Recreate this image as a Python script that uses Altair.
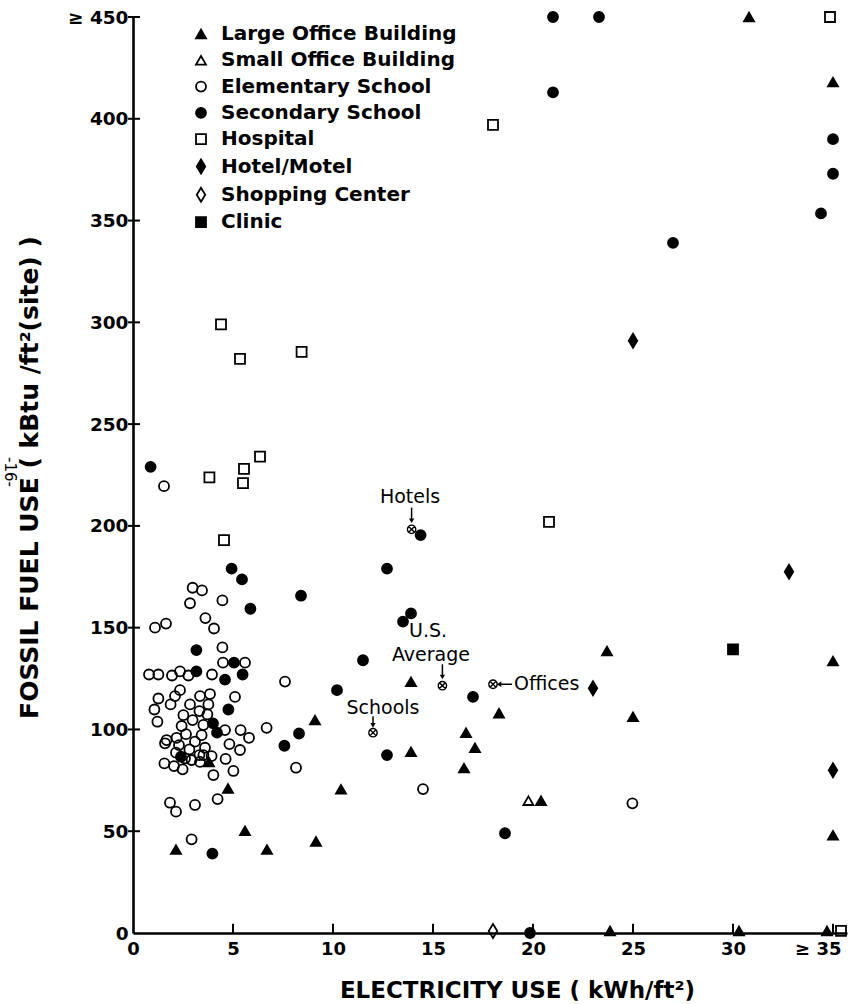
import altair as alt
import pandas as pd

# ---------------- data ----------------
categories = ["Large Office Building", "Small Office Building", "Elementary School",
              "Secondary School", "Hospital", "Hotel/Motel", "Shopping Center", "Clinic"]

large_office_x = [30.8, 35.0, 23.7, 35.0, 13.9, 18.3, 25.0, 9.1, 16.65, 17.1, 13.9, 16.55,
                  3.8, 4.75, 10.4, 20.4, 5.6, 35.0, 9.15, 2.15, 6.7, 23.85, 30.3, 34.7]
large_office_y = [450, 418, 138.5, 133.6, 123.4, 108, 106.2, 104.6, 98.4, 91, 89, 81,
                  84, 71, 70.6, 65, 50.2, 48, 45, 41, 41, 1, 1, 1]

small_office_x = [19.77]
small_office_y = [65]

elementary_x = [1.55, 2.98, 3.45, 4.47, 2.85, 3.62, 4.05, 1.1, 1.65, 4.47, 4.5, 5.6,
                0.8, 1.27, 1.95, 2.35, 2.77, 3.95, 7.6,
                1.27, 1.07, 1.22, 2.1, 2.35, 1.88, 2.85, 2.52, 2.43, 3.35, 3.32, 2.98,
                3.85, 3.77, 3.72, 3.52, 5.1,
                1.68, 1.6, 2.18, 2.3, 2.15, 2.65, 2.82, 2.6, 3.1, 3.32, 2.93, 3.43, 3.6,
                3.52, 1.57, 2.05, 2.48, 3.35, 3.93, 4.02, 4.6, 4.82, 4.63, 5.38, 5.8,
                5.35, 5.02, 6.68, 8.15, 14.5, 1.85, 2.15, 3.1, 4.23, 2.93, 24.97]
elementary_y = [219.5, 169.6, 168.3, 163.4, 162, 154.7, 149.6, 150, 152, 140.3, 132.8, 132.8,
                127, 127, 126.5, 128.5, 126.5, 127, 123.5,
                115.2, 109.8, 103.8, 116.4, 119.3, 112.3, 112.3, 107, 101.7, 116.4, 109, 104.6,
                117.4, 112.3, 107.4, 102.2, 116,
                94.8, 93.2, 95.9, 92.3, 88.6, 97.7, 90.2, 85.8, 94, 87.4, 85, 97.2, 91,
                87.4, 83.3, 82, 80.4, 84.1, 86.9, 77.6, 99.7, 92.8, 85.5, 99.7, 95.9,
                89.9, 79.6, 100.8, 81.2, 70.7, 64, 59.6, 62.9, 65.8, 46, 63.7]

secondary_x = [21.0, 23.3, 21.0, 35.0, 35.0, 34.4, 27.0, 0.88, 14.38, 12.7, 4.93, 5.45,
               8.4, 5.87, 13.9, 13.5, 3.17, 11.5, 5.05, 3.17, 5.48, 4.6, 10.2, 17.0,
               4.77, 4.0, 4.2, 8.3, 7.57, 12.7, 2.4, 18.6, 3.97, 19.85]
secondary_y = [450, 450, 413, 390, 373, 353.5, 339, 229, 195.5, 179, 179, 173.7,
               165.7, 159.3, 157, 153, 139, 134, 132.8, 128.5, 127, 124.5, 119.3, 116,
               109.8, 103, 98.4, 98, 92, 87.4, 86.6, 49, 39, 0]

hospital_x = [34.85, 18.0, 4.4, 8.43, 5.35, 6.35, 5.55, 3.82, 5.5, 20.8, 4.55, 35.4]
hospital_y = [450, 397, 299, 285.5, 282, 234, 228, 223.8, 221, 202, 193, 1]

hotel_x = [25.0, 32.8, 23.0, 35.0]
hotel_y = [291, 177.5, 120.2, 80]

shopping_x = [18.0]
shopping_y = [1]

clinic_x = [30.0]
clinic_y = [139.3]

# group averages (crossed circles) and their annotations
average_names = ["Hotels", "U.S. Average", "Schools", "Offices"]
average_x = [13.93, 15.47, 12.0, 18.0]
average_y = [198.3, 121.5, 98.4, 122.2]

label_text = ["Hotels", "U.S.", "Average", "Schools"]
label_x = [13.85, 14.75, 14.9, 12.5]
label_y = [214.0, 148.3, 136.5, 110.5]

offices_label = ["Offices"]
offices_label_x = [19.05]
offices_label_y = [122.3]

# vertical arrows: x, from y, to y
varrow_x = [13.93, 15.47, 12.0]
varrow_y1 = [209.0, 132.0, 106.5]
varrow_y2 = [202.5, 125.8, 102.0]
# horizontal arrow (Offices): y, from x, to x
harrow_y = [122.2]
harrow_x1 = [18.95]
harrow_x2 = [18.3]

x_tick_values = [0, 5, 10, 15, 20, 25, 30, 35]
y_tick_values = [0, 50, 100, 150, 200, 250, 300, 350, 400, 450]

# ---------------- build tables ----------------
series = [
    (categories[0], large_office_x, large_office_y),
    (categories[1], small_office_x, small_office_y),
    (categories[2], elementary_x, elementary_y),
    (categories[3], secondary_x, secondary_y),
    (categories[4], hospital_x, hospital_y),
    (categories[5], hotel_x, hotel_y),
    (categories[6], shopping_x, shopping_y),
    (categories[7], clinic_x, clinic_y),
]
rows = []
for cat, xs, ys in series:
    for xv, yv in zip(xs, ys):
        rows.append({"kwh": xv, "fuel": yv, "type": cat})
df = pd.DataFrame(rows)

avg_df = pd.DataFrame({"name": average_names, "kwh": average_x, "fuel": average_y})
lab_df = pd.DataFrame({"t": label_text, "kwh": label_x, "fuel": label_y})
off_df = pd.DataFrame({"t": offices_label, "kwh": offices_label_x, "fuel": offices_label_y})
varrow_df = pd.DataFrame({"kwh": varrow_x, "y1": varrow_y1, "y2": varrow_y2})
harrow_df = pd.DataFrame({"fuel": harrow_y, "x1": harrow_x1, "x2": harrow_x2})
xt_df = pd.DataFrame({"v": x_tick_values[1:]})
yt_df = pd.DataFrame({"v": y_tick_values[1:]})

# ---------------- styling ----------------
FONT = "DejaVu Sans"
xscale = alt.Scale(domain=[0, 35.7], nice=False, zero=False)
yscale = alt.Scale(domain=[0, 450], nice=False, zero=False)

diamond = "M0,-1.4L0.85,0L0,1.4L-0.85,0Z"
crossed = "M1,0A1,1,0,1,1,-1,0A1,1,0,1,1,1,0ZM-0.7,-0.7L0.7,0.7M-0.7,0.7L0.7,-0.7"
shape_range = ["triangle-up", "triangle-up", "circle", "circle", "square", diamond, diamond, "square"]
fill_range = ["black", "transparent", "transparent", "black", "transparent", "black", "transparent", "black"]
stroke_range = ["black"] * len(categories)

x_axis = alt.Axis(
    values=x_tick_values,
    labelExpr="datum.value == 35 ? '≥ 35' : datum.label",
    labelAlign={"expr": "datum.value == 35 ? 'right' : 'center'"},
    labelOffset={"expr": "datum.value == 35 ? 8 : 0"},
    ticks=False, tickSize=0, grid=False,
    domainColor="black", domainWidth=2.6,
    labelFont=FONT, labelFontWeight="bold", labelFontSize=18, labelColor="black",
    labelPadding=7, labelFlush=False, labelOverlap=False,
    title="ELECTRICITY USE ( kWh/ft²)",
    titleFont=FONT, titleFontWeight="bold", titleFontSize=23, titleColor="black",
    titleX=384, titleY=64, titleAlign="center", titleBaseline="alphabetic", titleAnchor="start",
)
y_axis = alt.Axis(
    values=y_tick_values,
    labelExpr="datum.value == 450 ? '≥ 450' : datum.label",
    ticks=False, tickSize=0, grid=False,
    domainColor="black", domainWidth=2.6,
    labelFont=FONT, labelFontWeight="bold", labelFontSize=18.5, labelColor="black",
    labelPadding=5, labelFlush=False, labelOverlap=False,
    title="FOSSIL FUEL USE ( kBtu /ft²(site) )",
    titleFont=FONT, titleFontWeight="bold", titleFontSize=25, titleColor="black",
    titleX=-104, titleY=460, titleAngle=270, titleAlign="center", titleBaseline="middle",
    titleAnchor="start",
)

legend = alt.Legend(
    orient="none", legendX=58, legendY=7, title=None, padding=0,
    labelFont=FONT, labelFontWeight="bold", labelFontSize=20, labelColor="black",
    symbolSize=100, symbolStrokeWidth=1.8, symbolStrokeColor="black",
    rowPadding=6.3, labelOffset=10, labelLimit=400,
)

points = alt.Chart(df).mark_point(filled=False, strokeWidth=1.8, opacity=1, size=100).encode(
    x=alt.X("kwh:Q", scale=xscale, axis=x_axis),
    y=alt.Y("fuel:Q", scale=yscale, axis=y_axis),
    shape=alt.Shape("type:N", scale=alt.Scale(domain=categories, range=shape_range), legend=legend),
    fill=alt.Fill("type:N", scale=alt.Scale(domain=categories, range=fill_range), legend=legend),
    stroke=alt.Stroke("type:N", scale=alt.Scale(domain=categories, range=stroke_range), legend=legend),
)

x_ticks = alt.Chart(xt_df).mark_rule(color="black", strokeWidth=2).encode(
    x=alt.X("v:Q", scale=xscale), y=alt.datum(0), y2=alt.datum(4.5))
y_ticks = alt.Chart(yt_df).mark_rule(color="black", strokeWidth=2).encode(
    y=alt.Y("v:Q", scale=yscale), x=alt.datum(-0.25), x2=alt.datum(0.35))

averages = alt.Chart(avg_df).mark_point(shape=crossed, size=70, stroke="black",
                                        strokeWidth=1.4, filled=False, opacity=1).encode(
    x=alt.X("kwh:Q", scale=xscale), y=alt.Y("fuel:Q", scale=yscale))

varrows = alt.Chart(varrow_df).mark_rule(color="black", strokeWidth=1.5).encode(
    x=alt.X("kwh:Q", scale=xscale), y=alt.Y("y1:Q", scale=yscale), y2="y2:Q")
vheads = alt.Chart(varrow_df).mark_point(shape="triangle-down", size=28, filled=True,
                                          color="black", opacity=1).encode(
    x=alt.X("kwh:Q", scale=xscale), y=alt.Y("y2:Q", scale=yscale))
harrows = alt.Chart(harrow_df).mark_rule(color="black", strokeWidth=1.5).encode(
    y=alt.Y("fuel:Q", scale=yscale), x=alt.X("x1:Q", scale=xscale), x2="x2:Q")
hheads = alt.Chart(harrow_df).mark_point(shape="triangle-left", size=28, filled=True,
                                          color="black", opacity=1).encode(
    y=alt.Y("fuel:Q", scale=yscale), x=alt.X("x2:Q", scale=xscale))

labels = alt.Chart(lab_df).mark_text(font=FONT, fontSize=19, color="black",
                                     align="center", baseline="middle").encode(
    x=alt.X("kwh:Q", scale=xscale), y=alt.Y("fuel:Q", scale=yscale), text="t:N")
off_label = alt.Chart(off_df).mark_text(font=FONT, fontSize=19, color="black",
                                        align="left", baseline="middle").encode(
    x=alt.X("kwh:Q", scale=xscale), y=alt.Y("fuel:Q", scale=yscale), text="t:N")

page = alt.Chart(pd.DataFrame({"t": ["-16-"]})).mark_text(
    font=FONT, fontSize=15, color="black", angle=90, align="center", baseline="middle").encode(
    x=alt.value(-123), y=alt.value(455), text="t:N")

chart = alt.layer(
    x_ticks, y_ticks, points, averages, varrows, vheads, harrows, hheads, labels, off_label, page
).properties(
    width=714, height=916,
    padding={"left": 133, "top": 17, "right": 4, "bottom": 71},
    autosize=alt.AutoSizeParams(type="none"),
    background="white",
).configure_view(stroke=None)

chart.save("out.html", embed_options={"renderer": "svg", "actions": False})
